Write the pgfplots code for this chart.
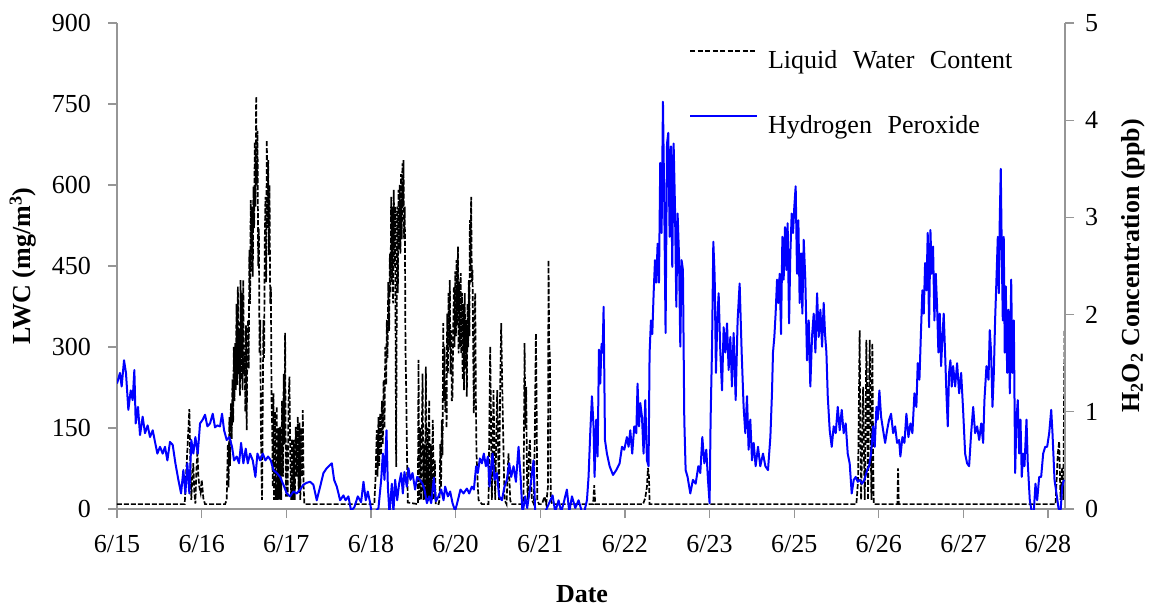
\documentclass[border=0pt]{standalone}
\usepackage{fontspec}
\setmainfont{Liberation Serif}
\usepackage{pgfplots}
\pgfplotsset{compat=1.18}
\definecolor{axgray}{RGB}{150,150,150}
\definecolor{h2blue}{RGB}{0,0,255}
\pgfplotsset{
  mybase/.style={
    at={(0pt,0pt)}, anchor=south west,
    scale only axis, width=948pt, height=486pt,
    xmin=0, xmax=11.2,
    axis line style={draw=axgray, line width=1.3pt, -},
    tick style={draw=axgray, line width=1.3pt},
    tick align=outside, major tick length=9pt,
    tick label style={font=\fontsize{26}{30}\selectfont, inner sep=0pt},
    /pgf/number format/assume math mode=true,
    minor tick num=0,
  },
  lwcstyle/.style={black, line width=1.7pt, dash pattern=on 5pt off 2pt},
  h2style/.style={h2blue, line width=2pt, line join=round},
}
\begin{document}
\begin{tikzpicture}
\begin{axis}[mybase,
  axis x line*=bottom, axis y line*=left,
  ymin=0, ymax=900, ytick={0,150,...,900},
  xtick={0,1,2,3,4,5,6,7,8,9,10,11},
  xticklabels={6/15,6/16,6/17,6/18,6/20,6/21,6/22,6/23,6/25,6/26,6/27,6/28},
  xticklabel style={anchor=north, yshift=-17pt},
  yticklabel style={anchor=east, xshift=-17pt},
  every axis x label/.style={at={(axis description cs:0.4905,-0.1564)}, anchor=north, inner sep=0pt, font=\bfseries\fontsize{26}{30}\selectfont},
  every axis y label/.style={at={(axis description cs:-0.0992,0.5)}, anchor=center, rotate=90, inner sep=0pt, font=\bfseries\fontsize{26}{30}\selectfont},
  xlabel={Date}, ylabel={LWC (mg/m\textsuperscript{3})},
]
\addplot[lwcstyle] coordinates {
(0,9) (0.800,9) (0.815,60) (0.835,120) (0.855,185) (0.866,90) (0.878,17) (0.890,60) (0.902,85) (0.914,30) (0.926,10) (0.938,70) (0.950,109) (0.962,60) (0.973,41) (0.988,30) (1.001,54) (1.020,20) (1.040,9)
(1.277,9) (1.296,17) (1.310,120) (1.318,40) (1.328,170) (1.336,80) (1.346,196) (1.356,130) (1.364,240) (1.372,160) (1.380,300) (1.388,200) (1.396,307) (1.404,220) (1.412,380) (1.420,230) (1.428,412) (1.436,250) (1.444,330) (1.452,210) (1.460,424) (1.468,240) (1.476,400) (1.484,220) (1.492,424) (1.500,250) (1.508,290) (1.516,180) (1.524,340) (1.532,146) (1.540,300) (1.548,350) (1.556,260) (1.564,480) (1.572,380) (1.580,572) (1.588,440) (1.596,560) (1.604,430) (1.612,597) (1.620,520) (1.628,680) (1.636,560) (1.644,764) (1.652,600) (1.660,700) (1.668,450) (1.676,520) (1.684,288) (1.692,350) (1.700,150) (1.708,60) (1.714,17) (1.722,200) (1.730,350) (1.738,280) (1.746,500) (1.754,578) (1.762,420) (1.770,683) (1.778,520) (1.786,646) (1.794,470) (1.802,600) (1.810,380) (1.818,412) (1.826,200) (1.834,150) (1.840,41) (1.848,214) (1.856,17) (1.866,180) (1.876,17) (1.887,190) (1.897,17) (1.907,150) (1.917,17) (1.927,152) (1.940,17) (1.950,200) (1.960,60) (1.970,250) (1.978,120) (1.986,326) (1.996,23) (2.006,120) (2.016,23) (2.027,200) (2.037,245) (2.047,103) (2.057,17) (2.068,130) (2.078,17) (2.088,128) (2.100,17) (2.112,152) (2.124,60) (2.136,171) (2.146,30) (2.156,160) (2.166,17) (2.176,150) (2.186,60) (2.195,183) (2.205,40) (2.214,9)
(3.040,9) (3.055,60) (3.069,146) (3.078,60) (3.089,170) (3.098,80) (3.109,177) (3.120,100) (3.130,200) (3.140,120) (3.150,239) (3.160,150) (3.170,300) (3.180,230) (3.188,350) (3.196,280) (3.205,420) (3.215,330) (3.224,473) (3.232,400) (3.239,578) (3.247,420) (3.255,560) (3.262,381) (3.270,591) (3.278,450) (3.286,560) (3.292,300) (3.298,78) (3.305,380) (3.312,560) (3.318,400) (3.326,591) (3.332,480) (3.340,600) (3.348,473) (3.356,620) (3.364,500) (3.372,640) (3.380,560) (3.385,646) (3.392,500) (3.400,560) (3.408,300) (3.416,226) (3.426,100) (3.436,12)
(3.555,9) (3.562,276) (3.572,17) (3.582,150) (3.592,17) (3.610,251) (3.620,17) (3.629,120) (3.638,17) (3.649,264) (3.659,17) (3.669,150) (3.678,17) (3.688,202) (3.698,17) (3.708,120) (3.718,17) (3.731,165) (3.743,17) (3.755,90) (3.765,9) (3.800,9)
(3.810,17) (3.820,120) (3.828,40) (3.838,165) (3.846,100) (3.854,344) (3.862,200) (3.870,300) (3.878,180) (3.886,226) (3.894,150) (3.901,362) (3.909,250) (3.917,400) (3.924,300) (3.932,424) (3.940,250) (3.948,331) (3.956,200) (3.964,208) (3.972,330) (3.980,412) (3.988,300) (3.996,440) (4.004,320) (4.012,461) (4.020,340) (4.028,486) (4.036,288) (4.044,420) (4.052,300) (4.060,437) (4.068,288) (4.076,400) (4.084,239) (4.092,380) (4.100,220) (4.108,400) (4.116,260) (4.124,350) (4.133,208) (4.141,380) (4.149,300) (4.157,424) (4.164,320) (4.169,535) (4.176,440) (4.184,578) (4.192,420) (4.200,443) (4.208,300) (4.216,177) (4.224,350) (4.232,400) (4.240,200) (4.247,103) (4.258,60) (4.271,17) (4.311,9)
(4.389,9) (4.409,301) (4.429,17) (4.448,220) (4.468,17) (4.480,120) (4.492,220) (4.512,17) (4.525,200) (4.539,344) (4.549,250) (4.559,165) (4.578,17) (4.602,9) (4.625,103) (4.645,17) (4.660,9)
(4.795,9) (4.803,17) (4.815,307) (4.825,150) (4.834,226) (4.844,60) (4.854,17) (4.866,100) (4.878,128) (4.890,60) (4.902,17) (4.925,9) (4.937,150) (4.949,325) (4.957,200) (4.965,17) (4.985,9)
(5.020,9) (5.051,23) (5.071,9) (5.091,41) (5.098,461) (5.106,300) (5.114,288) (5.120,100) (5.126,17) (5.140,9)
(5.625,9) (5.638,44) (5.650,9) (6.215,9) (6.240,20) (6.260,40) (6.273,76) (6.285,60) (6.292,9)
(8.735,9) (8.745,30) (8.755,54) (8.765,200) (8.774,331) (8.782,150) (8.791,17) (8.803,120) (8.815,226) (8.825,100) (8.834,17) (8.844,150) (8.853,313) (8.863,200) (8.873,17) (8.883,200) (8.893,313) (8.903,150) (8.913,17) (8.918,200) (8.924,307) (8.932,120) (8.940,9)
(9.220,9) (9.228,75) (9.236,9) (11.088,9) (11.115,103) (11.131,125) (11.147,17) (11.167,78) (11.180,17) (11.195,330)
};
\end{axis}
\begin{axis}[mybase,
  axis x line=none, axis y line*=right,
  ymin=0, ymax=5, ytick={0,1,2,3,4,5},
  yticklabel style={anchor=west, xshift=11pt},
  every axis y label/.style={at={(axis description cs:1.0717,0.5)}, anchor=center, rotate=90, inner sep=0pt, font=\bfseries\fontsize{26}{30}\selectfont},
  ylabel={H\textsubscript{2}O\textsubscript{2} Concentration (ppb)},
  legend cell align=left,
  legend image code/.code={\draw[#1] (0pt,9pt) -- (67pt,9pt);},
  legend style={draw=none, fill=none, inner sep=0pt, outer sep=0pt,
    at={(axis description cs:0.6034,0.944)}, anchor=north west,
    row sep=45pt, font=\fontsize{26}{30}\selectfont,
    nodes={inner sep=0pt},
    /tikz/every odd column/.append style={column sep=10pt}},
]
\addlegendimage{black, line width=1.3pt, dash pattern=on 5pt off 2.5pt}
\addlegendentry{Liquid\hspace{0.6em}Water\hspace{0.6em}Content}
\addplot[h2style] coordinates {
(0.000,1.29) (0.035,1.40) (0.055,1.26) (0.083,1.53) (0.106,1.40) (0.134,1.02) (0.162,1.22) (0.185,1.12) (0.205,1.43) (0.221,0.88) (0.248,1.05) (0.272,0.76) (0.303,0.95) (0.331,0.78) (0.362,0.86) (0.390,0.74) (0.422,0.81) (0.449,0.69) (0.477,0.57) (0.508,0.64) (0.540,0.57) (0.567,0.64) (0.595,0.50) (0.626,0.69) (0.658,0.66) (0.690,0.47) (0.725,0.30) (0.757,0.16) (0.784,0.40) (0.808,0.16) (0.831,0.47) (0.855,0.16) (0.878,0.71) (0.902,0.57) (0.926,0.74) (0.954,0.57) (0.981,0.88) (1.013,0.92) (1.040,0.97) (1.068,0.85) (1.099,0.88) (1.131,0.98) (1.158,0.84) (1.186,0.86) (1.217,0.85) (1.241,0.98) (1.265,0.81) (1.296,0.71) (1.328,0.74) (1.359,0.64) (1.383,0.50) (1.415,0.54) (1.442,0.47) (1.466,0.68) (1.493,0.47) (1.521,0.62) (1.545,0.47) (1.572,0.57) (1.604,0.50) (1.635,0.33) (1.659,0.57) (1.690,0.50) (1.722,0.57) (1.753,0.50) (1.785,0.54) (1.817,0.50) (1.848,0.40) (1.888,0.37) (1.927,0.33) (1.966,0.25) (2.006,0.16) (2.045,0.13) (2.084,0.18) (2.124,0.16) (2.163,0.20) (2.202,0.25) (2.242,0.27) (2.281,0.28) (2.320,0.25) (2.360,0.09) (2.400,0.23) (2.439,0.37) (2.478,0.42) (2.538,0.47) (2.565,0.30) (2.597,0.23) (2.636,0.09) (2.675,0.14)
(2.700,0.09) (2.734,0.13) (2.766,-0.02) (2.805,0.02) (2.845,0.13) (2.884,0.07) (2.912,0.28) (2.939,0.09) (2.963,0.18) (2.991,0.06) (3.010,-0.05) (3.050,-0.03) (3.089,0.01) (3.121,0.30) (3.141,0.57) (3.160,0.30) (3.184,0.81) (3.200,0.23) (3.219,-0.05) (3.247,0.26) (3.266,-0.03) (3.286,0.30) (3.310,0.09) (3.333,0.26) (3.357,0.37) (3.377,0.16) (3.396,0.38) (3.424,0.23) (3.443,0.42) (3.467,0.30) (3.491,0.37) (3.522,0.20) (3.546,0.33) (3.578,0.30) (3.609,0.26) (3.633,0.20) (3.661,0.06) (3.688,0.13) (3.712,0.06) (3.743,0.32) (3.767,0.08) (3.798,0.13) (3.830,0.20) (3.858,0.09) (3.877,0.23) (3.909,0.13) (3.936,0.18) (3.964,0.06) (3.995,-0.02) (4.027,0.09) (4.058,0.20) (4.094,0.16) (4.133,0.21) (4.161,0.16) (4.192,0.23) (4.216,0.20) (4.243,0.44) (4.263,0.37) (4.287,0.52) (4.311,0.47) (4.334,0.57) (4.358,0.44) (4.382,0.54) (4.401,0.23) (4.421,0.44) (4.437,0.57) (4.460,0.30) (4.488,0.37) (4.515,0.13) (4.547,0.09) (4.578,0.23) (4.606,0.30) (4.634,0.47) (4.657,0.33) (4.685,0.44) (4.713,0.28) (4.744,0.64) (4.768,0.33) (4.791,-0.05) (4.823,0.13) (4.846,0.01) (4.894,0.30) (4.921,0.50) (4.941,-0.05) (4.980,-0.03) (5.059,-0.03) (5.100,0.05) (5.146,0.14) (5.177,-0.03) (5.217,0.09) (5.248,-0.03) (5.276,0.06) (5.315,0.20) (5.343,-0.03) (5.375,0.13) (5.414,0.01) (5.453,0.09) (5.493,-0.03)
(5.520,-0.03) (5.552,0.09) (5.571,0.33) (5.591,0.78) (5.611,1.16) (5.630,0.85) (5.642,0.33) (5.662,0.92) (5.678,0.54) (5.694,1.64) (5.709,1.29) (5.725,1.70) (5.737,1.61) (5.749,2.08) (5.765,0.71) (5.788,0.57) (5.820,0.44) (5.860,0.35) (5.898,0.40) (5.938,0.47) (5.966,0.64) (5.993,0.61) (6.024,0.74) (6.044,0.64) (6.064,0.81) (6.087,0.57) (6.111,0.85) (6.135,0.78) (6.150,1.29) (6.167,0.85) (6.182,1.09) (6.202,0.95) (6.221,0.57) (6.241,1.12) (6.261,0.50) (6.280,0.44) (6.292,1.60) (6.308,1.94) (6.324,1.80) (6.340,2.22) (6.356,2.56) (6.371,2.33) (6.387,2.73) (6.403,2.33) (6.418,3.56) (6.434,2.84) (6.450,4.19) (6.466,3.11) (6.481,1.81) (6.498,3.76) (6.513,3.87) (6.529,2.80) (6.545,3.73) (6.560,2.49) (6.576,3.76) (6.592,3.11) (6.608,2.08) (6.623,3.04) (6.639,2.63) (6.655,1.67) (6.670,2.56) (6.686,2.46) (6.702,0.92) (6.718,0.40) (6.741,0.33) (6.773,0.16) (6.804,0.30) (6.836,0.26) (6.868,0.44) (6.891,0.37) (6.915,0.74) (6.939,0.47) (6.962,0.61) (6.982,0.30) (7.001,0.06)
(7.013,0.92) (7.030,1.67) (7.045,2.75) (7.061,2.39) (7.076,1.40) (7.092,1.94) (7.108,2.22) (7.128,1.61) (7.148,1.22) (7.167,1.87) (7.187,1.61) (7.207,1.91) (7.226,1.43) (7.246,1.77) (7.265,1.26) (7.285,1.81) (7.309,1.12) (7.332,1.94) (7.356,2.32) (7.380,1.61) (7.403,1.05) (7.423,0.78) (7.443,1.16) (7.462,0.61) (7.482,0.92) (7.502,0.50) (7.522,0.68) (7.545,0.44) (7.573,0.64) (7.600,0.44) (7.632,0.57) (7.660,0.44) (7.691,0.40) (7.719,0.74) (7.738,1.19) (7.750,1.61) (7.766,1.77) (7.781,2.01) (7.798,2.36) (7.813,2.12) (7.829,2.42) (7.845,1.80) (7.861,2.80) (7.876,2.36) (7.892,2.90) (7.908,2.46) (7.923,2.94) (7.940,1.91) (7.955,2.63) (7.971,3.04) (7.987,2.84) (8.002,3.11) (8.018,3.32) (8.034,2.42) (8.050,2.97) (8.065,2.12) (8.082,2.63) (8.097,2.01) (8.113,2.77) (8.132,2.36) (8.152,1.53) (8.172,1.94) (8.191,1.26) (8.211,1.77) (8.231,2.01) (8.251,1.61) (8.271,2.22) (8.290,1.77) (8.310,2.05) (8.330,1.67) (8.349,2.12) (8.365,1.80) (8.381,1.61) (8.397,1.16) (8.420,0.81) (8.444,0.64) (8.467,0.85) (8.491,0.78) (8.515,1.05) (8.538,0.81) (8.562,1.02) (8.585,0.78) (8.609,0.88) (8.633,0.57) (8.656,0.47) (8.680,0.16) (8.704,0.30) (8.727,0.33) (8.751,0.28) (8.774,0.30) (8.802,0.26) (8.830,0.30) (8.862,0.40) (8.885,0.44) (8.909,0.57) (8.933,0.85) (8.952,0.64) (8.972,1.05) (8.987,0.92) (9.007,1.22) (9.027,0.95) (9.051,0.81) (9.075,0.68) (9.098,0.81) (9.122,0.92) (9.145,0.98) (9.169,0.78) (9.193,0.85) (9.216,0.68) (9.240,0.71) (9.255,0.54) (9.279,0.74) (9.303,0.68) (9.326,0.98) (9.350,0.74) (9.374,0.88) (9.397,0.78) (9.421,1.19) (9.444,1.05) (9.460,1.50) (9.480,1.33) (9.500,1.87) (9.515,2.25) (9.531,2.01) (9.547,2.53) (9.563,2.25) (9.578,2.84) (9.594,1.87) (9.610,2.87) (9.625,2.42) (9.641,2.70) (9.657,1.94) (9.673,2.42) (9.689,2.08) (9.704,1.61) (9.720,2.01) (9.736,1.47) (9.752,1.77) (9.767,2.01) (9.783,1.61) (9.799,1.19) (9.815,0.85) (9.830,1.40) (9.846,1.53) (9.862,1.26) (9.878,1.47) (9.902,1.26) (9.925,1.50) (9.949,1.19) (9.973,1.40) (9.996,1.02) (10.020,0.57) (10.043,0.47) (10.067,0.44) (10.091,0.78) (10.115,1.05) (10.138,0.78) (10.162,0.85) (10.186,0.71) (10.210,0.88) (10.233,0.68) (10.248,1.12) (10.272,1.47) (10.296,1.33) (10.311,1.84) (10.327,1.61) (10.343,1.05) (10.359,1.40) (10.374,1.94) (10.390,2.36) (10.406,2.80) (10.418,2.22) (10.429,2.97) (10.441,3.50) (10.453,2.63) (10.465,1.94) (10.476,2.80) (10.488,1.61) (10.500,2.29) (10.517,1.40) (10.532,2.05) (10.548,1.19) (10.564,2.36) (10.579,1.40) (10.595,1.94) (10.611,0.37) (10.626,0.92) (10.642,1.12) (10.658,0.57) (10.674,0.92) (10.689,0.33) (10.705,0.57) (10.721,0.44) (10.745,0.92) (10.760,0.47) (10.784,0.09) (10.807,-0.03) (10.831,-0.03) (10.851,0.26) (10.871,0.09) (10.895,0.33) (10.918,0.33) (10.942,0.57) (10.966,0.64) (10.989,0.64) (11.013,0.78) (11.037,1.02) (11.052,0.78) (11.076,0.30) (11.099,0.16) (11.123,0.01) (11.147,-0.03) (11.167,0.23) (11.186,0.30)
};
\addlegendentry{Hydrogen\hspace{0.6em}Peroxide}
\end{axis}
\pgfresetboundingbox
\path[use as bounding box] (-117pt,-98pt) rectangle (1038pt,509pt);
\end{tikzpicture}
\end{document}
